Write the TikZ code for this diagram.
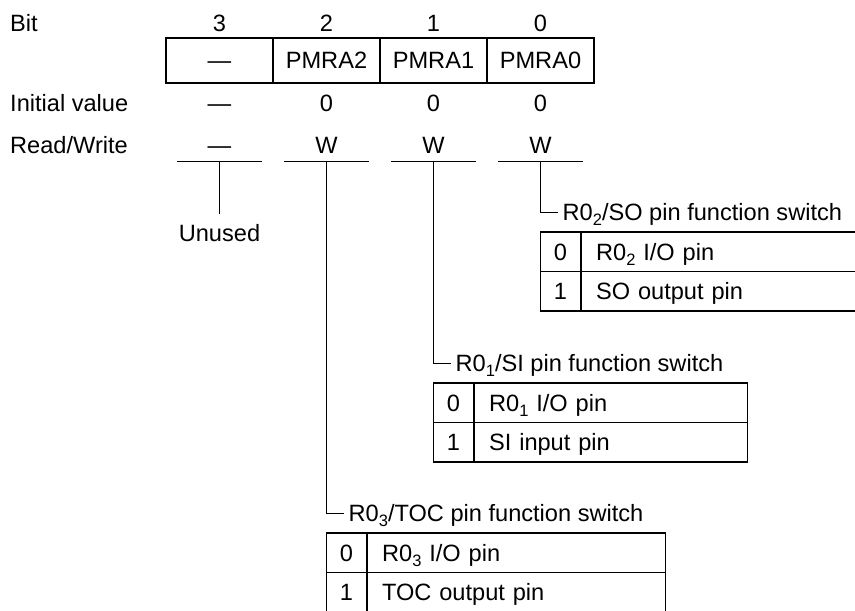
\documentclass[tikz,border=0pt]{standalone}
\usepackage{fontspec}
\setmainfont{Liberation Sans}
\newcommand{\sub}[1]{\raisebox{-5pt}{\fontsize{16.5}{18}\selectfont #1}}
\tikzset{
  tx/.style   = {inner sep=0pt, text height=16.8pt, text depth=0pt,
                 font=\fontsize{23.6}{28}\selectfont},
  lb/.style   = {tx, anchor=west},
  cell/.style = {tx, draw, line width=1.2pt, minimum width=107pt, minimum height=45pt},
  rw/.style   = {tx, anchor=south, minimum width=84pt, inner ysep=7.5pt},
  ln/.style   = {line width=1pt},
  vc/.style   = {tx, draw, line width=1.2pt, minimum width=40pt, minimum height=39.5pt},
  dc/.style   = {tx, draw, line width=1.2pt, anchor=west, minimum height=39.5pt,
                 inner xsep=15pt, align=left, text width=#1},
}

\begin{document}
\begin{tikzpicture}[x=1pt, y=-1pt]

  \useasboundingbox (0,0) rectangle (855,611);

  % ===== row titles =====================================================
  \node[lb] (tbit)  at (10, 23)  {Bit};
  \node[lb] (tinit) at (10,103)  {Initial value};
  \node[lb] (trw)   at (10,145)  {Read/Write};

  % ===== bit numbers ====================================================
  \node[tx] (b3) at (219.5,23) {3};
  \node[tx] (b2) at (326.5,23) {2};
  \node[tx] (b1) at (433.5,23) {1};
  \node[tx] (b0) at (540.5,23) {0};

  % ===== register =======================================================
  \node[cell] (r3) at (219.5,60.5) {\textemdash};
  \node[cell] (r2) at (326.5,60.5) {PMRA2};
  \node[cell] (r1) at (433.5,60.5) {PMRA1};
  \node[cell] (r0) at (540.5,60.5) {PMRA0};

  % ===== initial values =================================================
  \node[tx] (i3) at (219.5,103) {\textemdash};
  \node[tx] (i2) at (326.5,103) {0};
  \node[tx] (i1) at (433.5,103) {0};
  \node[tx] (i0) at (540.5,103) {0};

  % ===== read/write =====================================================
  \node[rw] (rw3) at (219.5,161) {\textemdash};
  \node[rw] (rw2) at (326.5,161) {W};
  \node[rw] (rw1) at (433.5,161) {W};
  \node[rw] (rw0) at (540.5,161) {W};
  \draw[ln] (rw3.south west) -- (rw3.south east);
  \draw[ln] (rw2.south west) -- (rw2.south east);
  \draw[ln] (rw1.south west) -- (rw1.south east);
  \draw[ln] (rw0.south west) -- (rw0.south east);

  % ===== bit 3 ==========================================================
  \node[tx, inner ysep=10.5pt] (unused) at (219.5,233) {Unused};
  \draw[ln] (rw3.south) -- (unused.north);

  % ===== bit 0: R0_2/SO =================================================
  \node[lb, inner xsep=4.5pt] (sw0) at (558,212)
        {R0\sub{2}/SO pin function switch};
  \draw[ln] (rw0.south) |- (sw0.west);
  \node[vc]         (v00) at (560.5,251.75) {0};
  \node[dc=245.5pt] (d00) at (580.5,251.75) {R0\sub{2} I/O pin};
  \node[vc]         (v01) at (560.5,291.25) {1};
  \node[dc=245.5pt] (d01) at (580.5,291.25) {SO output pin};

  % ===== bit 1: R0_1/SI =================================================
  \node[lb, inner xsep=4.5pt] (sw1) at (451,363)
        {R0\sub{1}/SI pin function switch};
  \draw[ln] (rw1.south) |- (sw1.west);
  \node[vc]         (v10) at (453.5,402.75) {0};
  \node[dc=243.5pt] (d10) at (473.5,402.75) {R0\sub{1} I/O pin};
  \node[vc]         (v11) at (453.5,442.25) {1};
  \node[dc=243.5pt] (d11) at (473.5,442.25) {SI input pin};

  % ===== bit 2: R0_3/TOC ================================================
  \node[lb, inner xsep=4.5pt] (sw2) at (344,513)
        {R0\sub{3}/TOC pin function switch};
  \draw[ln] (rw2.south) |- (sw2.west);
  \node[vc]         (v20) at (346.5,552.75) {0};
  \node[dc=268.5pt] (d20) at (366.5,552.75) {R0\sub{3} I/O pin};
  \node[vc]         (v21) at (346.5,592.25) {1};
  \node[dc=268.5pt] (d21) at (366.5,592.25) {TOC output pin};

\end{tikzpicture}
\end{document}
